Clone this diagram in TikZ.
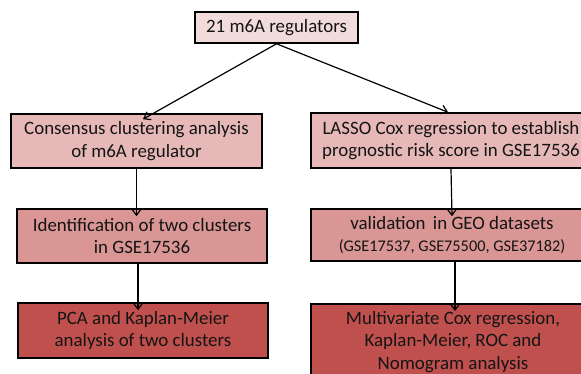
\documentclass[tikz,border=0pt]{standalone}
\usepackage{fontspec}
\setmainfont{Carlito}
\usetikzlibrary{arrows.meta}
\definecolor{tierA}{HTML}{F2DCDB}
\definecolor{tierB}{HTML}{E6B9B8}
\definecolor{tierC}{HTML}{D99694}
\definecolor{tierD}{HTML}{C0504D}
\definecolor{ink}{HTML}{141414}
\tikzset{
  box/.style={draw=black, line width=1.6pt, rectangle, inner sep=0pt,
              align=center, text=ink, font=\fontsize{18.9}{22.5}\selectfont},
  link/.style={line width=1.2pt, -{Straight Barb[length=6pt,width=9pt,line width=1.2pt]}}
}
\begin{document}
\begin{tikzpicture}[x=1pt,y=-1pt]
\useasboundingbox (0,0) rectangle (581,373);
\clip (0,0) rectangle (581,373);
\fill[white] (0,0) rectangle (581,373);

% top
\node[box, fill=tierA, minimum width=163pt, minimum height=31pt] (top) at (276.5,27.5) {21 m6A regulators};

% left column
\node[box, fill=tierB, minimum width=251pt, minimum height=54pt] (l1) at (136.5,141) {Consensus clustering analysis\\of m6A regulator};
\node[box, fill=tierC, minimum width=250pt, minimum height=54pt] (l2) at (142,236) {Identification of two clusters\\in GSE17536};
\node[box, fill=tierD, minimum width=250pt, minimum height=55pt] (l3) at (143,330.5) {PCA and Kaplan-Meier\\analysis of two clusters};

% right column
\node[box, fill=tierB, minimum width=280pt, minimum height=55pt] (r1) at (451,140.5) {LASSO Cox regression to establish\\prognostic risk score in GSE17536};
\node[box, fill=tierC, minimum width=282pt, minimum height=52pt] (r2) at (452,235) {validation\, in GEO datasets\\[-1pt]{\fontsize{16.3}{18}\selectfont (GSE17537, GSE75500, GSE37182)}};
\node[box, fill=tierD, minimum width=284pt, minimum height=76pt, anchor=north] (r3) at (453,303)
  {\fontsize{18.9}{25.5}\selectfont Multivariate Cox regression,\\Kaplan-Meier, ROC and\\Nomogram analysis};

% connectors
\draw[link] (top.south) -- ([xshift=6.5pt,yshift=-6pt]l1.north);
\draw[link] (top.south) -- ([xshift=-3pt]r1.north);
\draw[link] (l1.south) -- ([xshift=-5.5pt,yshift=-8pt]l2.north);
\draw[link] (r1.south) -- ([yshift=-8pt]r2.north);
\draw[link] ([xshift=-4pt]l2.south) -- ([xshift=-5pt,yshift=-8pt]l3.north);
\draw[link] ([xshift=3pt]r2.south) -- ([xshift=2pt,yshift=-8pt]r3.north);
\end{tikzpicture}
\end{document}
